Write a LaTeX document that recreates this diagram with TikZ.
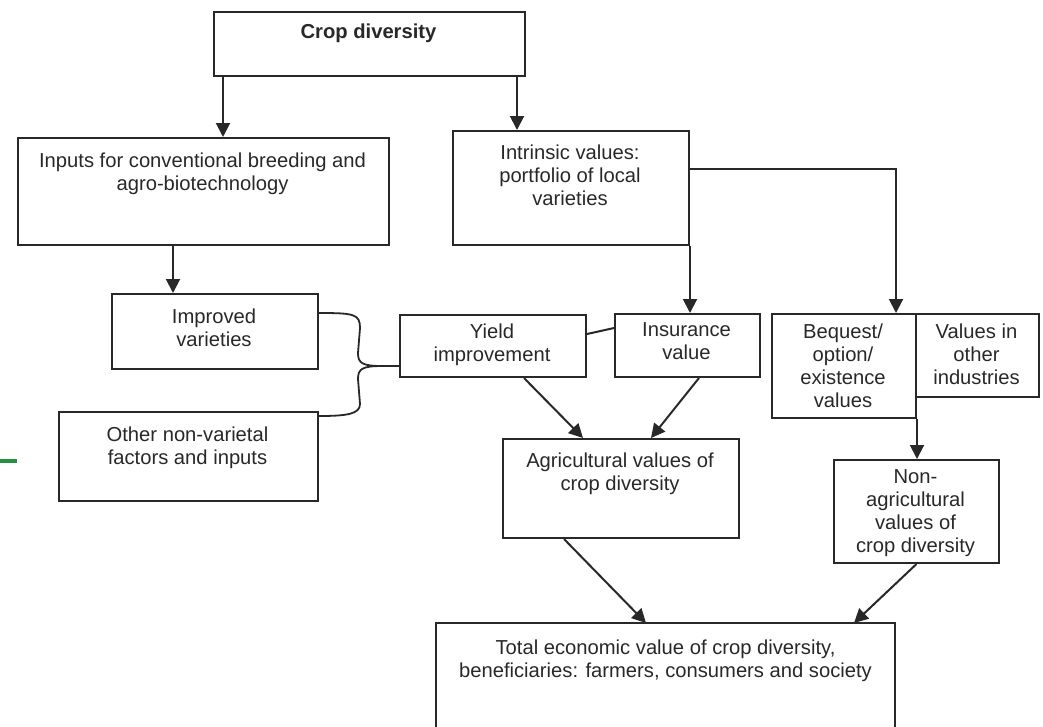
\documentclass[tikz,border=0pt]{standalone}
\usepackage{fontspec}
\setmainfont{Liberation Sans}
\usetikzlibrary{arrows.meta,calc}
\definecolor{ln}{RGB}{40,40,40}
\definecolor{tx}{RGB}{40,40,40}
\definecolor{grn}{RGB}{35,145,65}
\begin{document}
\begin{tikzpicture}[x=1pt,y=-1pt,
  box/.style={draw=ln, line width=2pt, anchor=north west, inner sep=0pt, rectangle},
  ghost/.style={anchor=north west, inner sep=0pt, rectangle},
  txt/.style={anchor=north, align=center, inner sep=0pt, text=tx, font=\fontsize{20.2}{23}\selectfont},
  conn/.style={draw=ln, line width=2pt},
  arr/.style={conn, -{Triangle[length=14pt,width=14pt]}}]
\useasboundingbox (0,0) rectangle (1043,726);

% boxes
\node[box, minimum width=311pt, minimum height=64pt]  (crop)  at (213,11)  {};
\node[box, minimum width=371pt, minimum height=107pt] (inputs) at (17,137) {};
\node[box, minimum width=236pt, minimum height=114pt] (intr)  at (452,130) {};
\node[box, minimum width=206pt, minimum height=75pt]  (impr)  at (111,293) {};
\node[box, minimum width=259pt, minimum height=89pt]  (other) at (58,411)  {};
\node[box, minimum width=186pt, minimum height=62pt]  (yield) at (399,314) {};
\node[box, minimum width=145pt, minimum height=63pt]  (ins)   at (614,313) {};
\node[box, minimum width=144pt, minimum height=104pt] (beq)   at (771,313) {};
\node[box, minimum width=123pt, minimum height=83pt]  (vals)  at (915,313) {};
\node[box, minimum width=236pt, minimum height=99pt]  (agr)   at (502,438) {};
\node[box, minimum width=165pt, minimum height=103pt] (nonag) at (833,459) {};
\node[ghost, minimum width=459pt, minimum height=106pt] (total) at (436,623) {};
\draw[conn] (total.south west) |- (total.north east) -- (total.south east);

% texts
\node[txt] (t-crop)   at (368.5,23.5) {\bfseries Crop diversity};
\node[txt] (t-inputs) at (202.5,152.5) {Inputs for conventional breeding and\\agro-biotechnology};
\node[txt] (t-intr)   at (570,144.5) {Intrinsic values:\\portfolio of local\\varieties};
\node[txt] (t-impr)   at (214,308.5) {Improved\\varieties};
\node[txt] (t-other)  at (187.5,426.5) {Other non-varietal\\factors and inputs};
\node[txt] (t-yield)  at (492,323.5) {Yield\\improvement};
\node[txt] (t-ins)    at (686.5,322.5) {Insurance\\value};
\node[txt] (t-beq)    at (843,323.5) {Bequest/\\option/\\existence\\values};
\node[txt] (t-vals)   at (976.5,323.5) {Values in\\other\\industries};
\node[txt] (t-agr)    at (620,452.5) {Agricultural values of\\crop diversity};
\node[txt] (t-nonag)  at (915.5,469.5) {Non-\\agricultural\\values of\\crop diversity};
\node[txt] (t-total)  at (665.5,639.5) {Total economic value of crop diversity,\\beneficiaries: farmers, consumers and society};

% connectors
\draw[arr] ([xshift=10pt]crop.south west) -- ([xshift=10pt]crop.south west |- inputs.north);
\draw[arr] ([xshift=-9pt]crop.south east) -- ([xshift=-9pt]crop.south east |- intr.north);
\draw[arr] ([xshift=156pt]inputs.south west) -- ([xshift=156pt]inputs.south west |- impr.north);
\draw[arr] (intr.south east) -- (intr.south east |- ins.north);
\draw[arr] ([yshift=-39pt]intr.north east) -| ([xshift=-21pt]beq.north east);
\draw[conn] ([yshift=12pt]yield.east) -- ([yshift=17.5pt]ins.west);
\draw[arr] ([xshift=125pt]yield.south west) -- ([xshift=81pt]agr.north west);
\draw[arr] ([xshift=85pt]ins.south west) -- ([xshift=149pt]agr.north west);
\draw[arr] (beq.south east) -- (beq.south east |- nonag.north);
\draw[arr] ([xshift=62pt]agr.south west) -- ([xshift=210pt]total.north west);
\draw[arr] (nonag.south) -- ([xshift=418pt]total.north west);

% brace joining the two left boxes to yield improvement
\coordinate (b-top) at ([yshift=-20pt]impr.north east);
\coordinate (b-bot) at ([yshift=-5pt]other.north east);
\coordinate (b-end) at ([yshift=-20pt]yield.west);
\coordinate (b-tip) at ($(b-end)+(-17,0)$);
\draw[conn, line width=1.8pt] (b-top) .. controls ($(b-top)+(35,0)$) and ($(b-top)+(41,1)$) .. ($(b-top)+(41,15)$)
  -- ($(b-tip)+(-24,-13)$) .. controls ($(b-tip)+(-24,-3)$) and ($(b-tip)+(-20,0)$) .. (b-tip) -- (b-end);
\draw[conn, line width=1.8pt] (b-tip) .. controls ($(b-tip)+(-20,0)$) and ($(b-tip)+(-24,3)$) .. ($(b-tip)+(-24,13)$)
  -- ($(b-bot)+(41,-12)$) .. controls ($(b-bot)+(41,-2)$) and ($(b-bot)+(28,0)$) .. (b-bot);

% green mark at the left edge
\draw[grn, line width=4.5pt] (0,461) -- (17,461);
\end{tikzpicture}
\end{document}
